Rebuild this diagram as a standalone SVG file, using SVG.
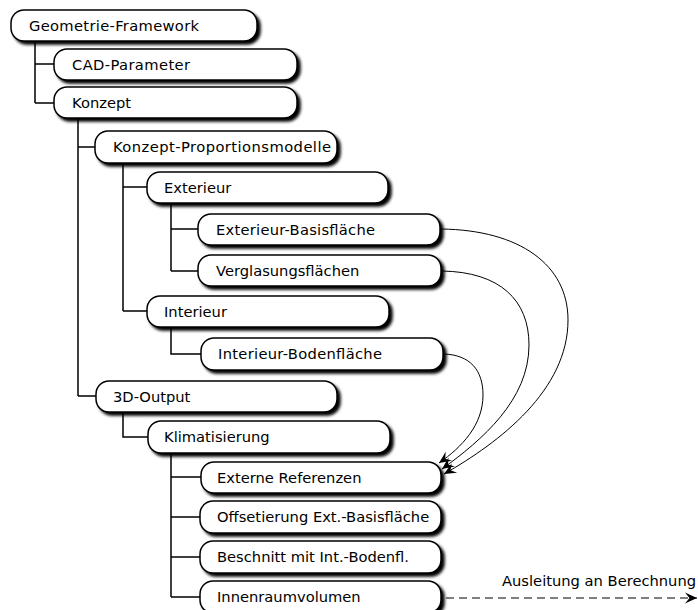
<svg xmlns="http://www.w3.org/2000/svg" width="698" height="610" viewBox="0 0 698 610">
  <style>
    .box { fill: #ffffff; stroke: #000000; stroke-width: 1.5; filter: url(#shadow); }
    .lbl { font-family: "DejaVu Sans", Verdana, sans-serif; font-size: 14.7px; fill: #000000; }
    .tree { fill: none; stroke: #000000; stroke-width: 1.5; }
    .ref { fill: none; stroke: #000000; stroke-width: 1; marker-end: url(#head); }
    .out { fill: none; stroke: #000000; stroke-width: 1.2; stroke-dasharray: 8 5; marker-end: url(#head); }
  </style>
  <defs>
    <filter id="shadow" x="-10%" y="-30%" width="125%" height="180%">
      <feGaussianBlur in="SourceAlpha" stdDeviation="1.6"/>
      <feOffset dx="3" dy="3" result="sh"/>
      <feMerge>
        <feMergeNode in="sh"/>
        <feMergeNode in="SourceGraphic"/>
      </feMerge>
    </filter>
    <marker id="head" viewBox="-13 -6 14 12" refX="0" refY="0" markerWidth="14" markerHeight="12" markerUnits="userSpaceOnUse" orient="auto">
      <path d="M0,0 L-12,-5.5 L-7.5,0 L-12,5.5 Z" fill="#000000"/>
    </marker>
  </defs>

  <!-- tree connectors and cross references -->
  <g id="connectors">
    <path class="tree" d="M35,41 V103 M35,64 H54 M35,103 H54"/>
    <path class="tree" d="M78,118 V396 M78,147 H95 M78,396 H96"/>
    <path class="tree" d="M123,163 V311 M123,187 H147 M123,311 H147"/>
    <path class="tree" d="M171,204 V271 M171,229 H198 M171,271 H198"/>
    <path class="tree" d="M171,327 V354 H201"/>
    <path class="tree" d="M123,412 V437 H148"/>
    <path class="tree" d="M171,453 V597 M171,477 H201 M171,517 H200 M171,557 H200 M171,597 H200"/>

    <path class="ref" d="M441,229 C520,230 568,265 568,320 C568,390 500,442 444,474"/>
    <path class="ref" d="M442,271 C500,272 529,300 529,345 C529,400 482,440 442,469"/>
    <path class="ref" d="M444,354 C470,355 483,370 483,395 C483,425 462,447 439,463"/>

    <path class="out" d="M446,598 H697"/>
    <text class="lbl" x="502" y="586">Ausleitung an Berechnung</text>
  </g>

  <g id="n-geometrie-framework">
    <rect class="box" x="11" y="10" width="246" height="31" rx="13"/>
    <text class="lbl" x="29" y="31" textLength="170">Geometrie-Framework</text>
  </g>
  <g id="n-cad-parameter">
    <rect class="box" x="54" y="49" width="243" height="31" rx="13"/>
    <text class="lbl" x="72" y="70" textLength="118">CAD-Parameter</text>
  </g>
  <g id="n-konzept">
    <rect class="box" x="54" y="87" width="243" height="31" rx="13"/>
    <text class="lbl" x="72" y="108">Konzept</text>
  </g>
  <g id="n-konzept-proportionsmodelle">
    <rect class="box" x="95" y="131" width="242" height="32" rx="13"/>
    <text class="lbl" x="113" y="152" textLength="218">Konzept-Proportionsmodelle</text>
  </g>
  <g id="n-exterieur">
    <rect class="box" x="147" y="172" width="241" height="31" rx="13"/>
    <text class="lbl" x="164" y="193">Exterieur</text>
  </g>
  <g id="n-exterieur-basisflaeche">
    <rect class="box" x="198" y="214" width="242" height="31" rx="13"/>
    <text class="lbl" x="216" y="235" textLength="159">Exterieur-Basisfläche</text>
  </g>
  <g id="n-verglasungsflaechen">
    <rect class="box" x="198" y="255" width="243" height="31" rx="13"/>
    <text class="lbl" x="216" y="276">Verglasungsflächen</text>
  </g>
  <g id="n-interieur">
    <rect class="box" x="147" y="296" width="242" height="31" rx="13"/>
    <text class="lbl" x="164" y="317">Interieur</text>
  </g>
  <g id="n-interieur-bodenflaeche">
    <rect class="box" x="201" y="338" width="242" height="32" rx="13"/>
    <text class="lbl" x="218" y="359" textLength="164">Interieur-Bodenfläche</text>
  </g>
  <g id="n-3d-output">
    <rect class="box" x="96" y="381" width="241" height="31" rx="13"/>
    <text class="lbl" x="113" y="402">3D-Output</text>
  </g>
  <g id="n-klimatisierung">
    <rect class="box" x="148" y="421" width="242" height="32" rx="13"/>
    <text class="lbl" x="164" y="442">Klimatisierung</text>
  </g>
  <g id="n-externe-referenzen">
    <rect class="box" x="201" y="462" width="240" height="31" rx="13"/>
    <text class="lbl" x="217" y="483">Externe Referenzen</text>
  </g>
  <g id="n-offsetierung">
    <rect class="box" x="200" y="501" width="241" height="32" rx="13"/>
    <text class="lbl" x="217" y="522">Offsetierung Ext.-Basisfläche</text>
  </g>
  <g id="n-beschnitt">
    <rect class="box" x="200" y="541" width="241" height="32" rx="13"/>
    <text class="lbl" x="217" y="562">Beschnitt mit Int.-Bodenfl.</text>
  </g>
  <g id="n-innenraumvolumen">
    <rect class="box" x="200" y="581" width="241" height="32" rx="13"/>
    <text class="lbl" x="217" y="602">Innenraumvolumen</text>
  </g>
</svg>
